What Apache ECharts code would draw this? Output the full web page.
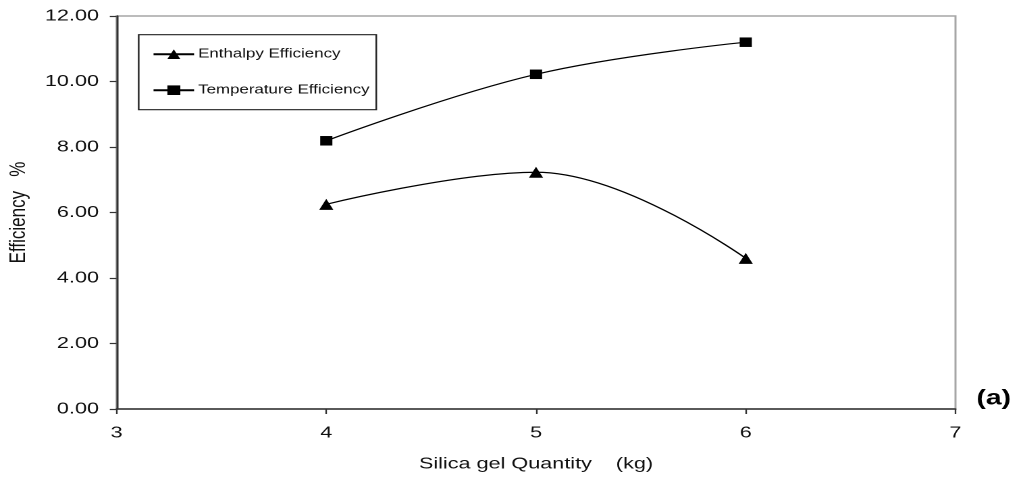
<!DOCTYPE html>
<html>
<head>
<meta charset="utf-8">
<script src="https://cdn.jsdelivr.net/npm/echarts@6/dist/echarts.min.js"></script>
<style>
  html, body { margin: 0; padding: 0; background: #fff; overflow: hidden; }
  #wrap { width: 1021px; height: 482px; overflow: hidden; }
  #chart { width: 756px; height: 482px; transform: scaleX(1.3505); transform-origin: 0 0; }
</style>
</head>
<body>
<div id="wrap"><div id="chart"></div></div>
<script>
// ---- data ----
const xValues = [4, 5, 6];
const enthalpyEfficiency = [6.25, 7.23, 4.60];
const temperatureEfficiency = [8.19, 10.22, 11.20];
const seriesNames = ['Enthalpy Efficiency', 'Temperature Efficiency'];
const xAxisTitle = 'Silica gel Quantity    (kg)';
const yAxisTitle = 'Efficiency   %';
const panelLabel = '(a)';

const FONT = "'Liberation Sans', Arial, sans-serif";
const chart = echarts.init(document.getElementById('chart'), null, { renderer: 'canvas', devicePixelRatio: 2 });

const toPairs = (xs, ys) => xs.map((x, i) => [x, ys[i]]);

chart.setOption({
  animation: false,
  backgroundColor: '#ffffff',
  textStyle: { fontFamily: FONT, color: '#111' },
  grid: {
    left: 86.3, right: 48.5, top: 16, bottom: 73,
    outerBoundsMode: 'none', containLabel: false,
    show: true, borderColor: '#a6a6a6', borderWidth: 1.5, backgroundColor: 'transparent'
  },
  legend: {
    orient: 'vertical',
    left: 102.7, top: 34.7,
    padding: [13, 5, 13, 10],
    itemWidth: 30, itemHeight: 12, itemGap: 23,
    borderColor: '#222', borderWidth: 1.2, backgroundColor: '#fff',
    textStyle: { fontFamily: FONT, fontSize: 12.5, color: '#111', padding: [0, 0, 0, -2] },
    data: seriesNames
  },
  xAxis: {
    type: 'value', min: 3, max: 7, interval: 1,
    name: xAxisTitle, nameLocation: 'middle', nameGap: 47,
    nameTextStyle: { fontFamily: FONT, fontSize: 16, color: '#111' },
    axisLine: { show: true, onZero: false, lineStyle: { color: '#333', width: 1.5 } },
    axisTick: { show: true, length: 5, lineStyle: { color: '#333', width: 1.2 } },
    axisLabel: { fontFamily: FONT, fontSize: 16, color: '#111', margin: 16 },
    splitLine: { show: false }
  },
  yAxis: {
    type: 'value', min: 0, max: 12, interval: 2,
    name: yAxisTitle, nameLocation: 'middle', nameGap: 62, nameRotate: 90,
    nameTextStyle: { fontFamily: FONT, fontSize: 17, color: '#111' },
    axisLine: { show: true, onZero: false, lineStyle: { color: '#333', width: 1.5 } },
    axisTick: { show: true, length: 5, lineStyle: { color: '#333', width: 1.2 } },
    axisLabel: { fontFamily: FONT, fontSize: 16, color: '#111', margin: 13,
      formatter: v => v.toFixed(2) },
    splitLine: { show: false }
  },
  graphic: [{
    type: 'text', left: 723, top: 388,
    style: { text: panelLabel, font: "bold 21px " + FONT, fill: '#000' }
  }],
  series: [
    {
      name: seriesNames[0], type: 'line', smooth: 0.4,
      data: toPairs(xValues, enthalpyEfficiency),
      symbol: 'triangle', symbolSize: [10.5, 11],
      lineStyle: { color: '#000', width: 1.2 },
      itemStyle: { color: '#000' }
    },
    {
      name: seriesNames[1], type: 'line', smooth: 0.4,
      data: toPairs(xValues, temperatureEfficiency),
      symbol: 'rect', symbolSize: [9, 9.5],
      lineStyle: { color: '#000', width: 1.2 },
      itemStyle: { color: '#000' }
    }
  ]
});
</script>
</body>
</html>
